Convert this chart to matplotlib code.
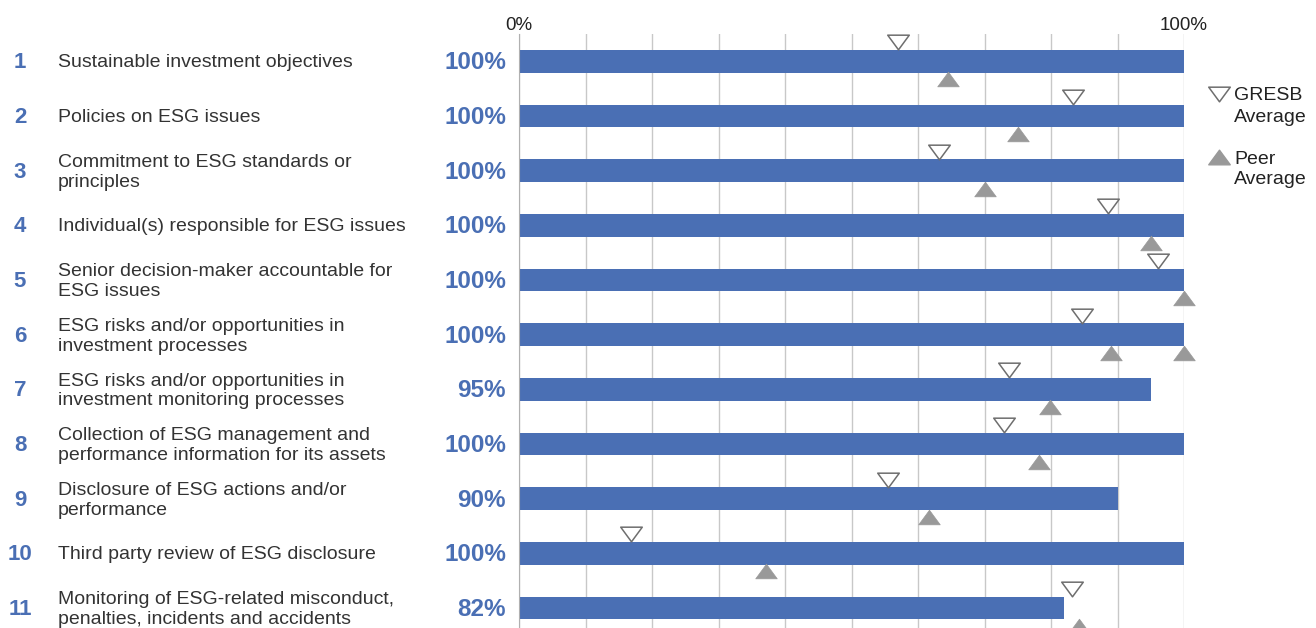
import numpy as np
import matplotlib.pyplot as plt
from matplotlib.path import Path
from matplotlib.transforms import blended_transform_factory

plt.rcParams['font.family'] = ['Liberation Sans', 'DejaVu Sans']

# data
# ---
row_numbers = ['1', '2', '3', '4', '5', '6', '7', '8', '9', '10', '11']
labels = ['Sustainable investment objectives',
          'Policies on ESG issues',
          'Commitment to ESG standards or\nprinciples',
          'Individual(s) responsible for ESG issues',
          'Senior decision-maker accountable for\nESG issues',
          'ESG risks and/or opportunities in\ninvestment processes',
          'ESG risks and/or opportunities in\ninvestment monitoring processes',
          'Collection of ESG management and\nperformance information for its assets',
          'Disclosure of ESG actions and/or\nperformance',
          'Third party review of ESG disclosure',
          'Monitoring of ESG-related misconduct,\npenalties, incidents and accidents']
scores = [100, 100, 100, 100, 100, 100, 95, 100, 90, 100, 82]
gresb_avg = [57.0, 83.3, 63.2, 88.5, 96.1, 84.7, 73.7, 72.9, 55.5, 16.9, 83.2]
peer_avg = [64.5, 75.0, 70.0, 95.0, 100, 89.0, 79.9, 78.2, 61.7, 37.1, 84.2]
# row 6 shows a second peer marker at the right end
peer_extra_row = [5]
peer_extra_val = [100]

# styles
# ---
blue = '#4a6fb4'
grey = '#999999'
edge = '#6e6e6e'
text_col = '#333333'

# flat triangles (wider than tall)
down_tri = Path([(-1, 0.68), (1, 0.68), (0, -0.68), (-1, 0.68)],
                [Path.MOVETO, Path.LINETO, Path.LINETO, Path.CLOSEPOLY])
up_tri = Path([(-1, -0.68), (1, -0.68), (0, 0.68), (-1, -0.68)],
              [Path.MOVETO, Path.LINETO, Path.LINETO, Path.CLOSEPOLY])
msize = 15.5

W, H = 1316, 628
fig = plt.figure(figsize=(W / 100, H / 100), dpi=100)
ax = fig.add_axes([519 / W, 0, 665 / W, 1 - 34 / H])

y = np.arange(len(scores))
ax.barh(y, scores, height=0.42, color=blue, zorder=2)
ax.plot(gresb_avg, y - 0.35, linestyle='none', marker=down_tri, markersize=msize,
        markerfacecolor='white', markeredgecolor=edge, markeredgewidth=1.1,
        zorder=3, clip_on=False)
ax.plot(peer_avg, y + 0.33, linestyle='none', marker=up_tri, markersize=msize,
        markerfacecolor=grey, markeredgecolor=grey, markeredgewidth=0.5,
        zorder=3, clip_on=False)
ax.plot(peer_extra_val, np.array(peer_extra_row) + 0.33, linestyle='none',
        marker=up_tri, markersize=msize, markerfacecolor=grey,
        markeredgecolor=grey, markeredgewidth=0.5, zorder=3, clip_on=False)

ax.set_xlim(0, 100)
ax.set_ylim(10.366, -0.5)
ax.set_xticks(np.arange(0, 101, 10))
ax.grid(axis='x', color='#c8c8c8', linewidth=1, zorder=0)
ax.tick_params(length=0, labelbottom=False, labelleft=False)
ax.set_yticks([])
for s in ['top', 'right', 'bottom']:
    ax.spines[s].set_visible(False)
ax.spines['left'].set_color('#b0b0b0')

# top tick labels, only 0% and 100%
for xv, txt in [(0, '0%'), (100, '100%')]:
    ax.text(xv, -0.5 - 9 / 54.7, txt, ha='center', va='center',
            fontsize=13.5, color='#222222', clip_on=False)

# left side text
tr = blended_transform_factory(fig.transFigure, ax.transData)
for i in range(len(scores)):
    ax.text(20 / W, i + 0.03, row_numbers[i], transform=tr, ha='center',
            va='center', fontsize=16, fontweight='bold', color=blue)
    ax.text(58 / W, i + 0.03, labels[i], transform=tr, ha='left', va='center',
            fontsize=14, color=text_col, linespacing=1.22)
    ax.text(506 / W, i + 0.03, f'{scores[i]}%', transform=tr, ha='right',
            va='center', fontsize=17.5, fontweight='bold', color=blue)

# legend on the right
lx = 1219 / W
fig.lines.append(plt.Line2D([lx], [1 - 94 / H], transform=fig.transFigure,
                            marker=down_tri, markersize=msize, linestyle='none',
                            markerfacecolor='white', markeredgecolor=edge,
                            markeredgewidth=1.1))
fig.lines.append(plt.Line2D([lx], [1 - 157 / H], transform=fig.transFigure,
                            marker=up_tri, markersize=msize, linestyle='none',
                            markerfacecolor=grey, markeredgecolor=grey))
fig.text(1234 / W, 1 - 96 / H, 'GRESB', ha='left', va='center', fontsize=14,
         color='#222222')
fig.text(1234 / W, 1 - 117 / H, 'Average', ha='left', va='center',
         fontsize=14, color='#222222')
fig.text(1234 / W, 1 - 159 / H, 'Peer', ha='left', va='center', fontsize=14,
         color='#222222')
fig.text(1234 / W, 1 - 180 / H, 'Average', ha='left', va='center',
         fontsize=14, color='#222222')

fig.savefig('out.png', dpi=100)
